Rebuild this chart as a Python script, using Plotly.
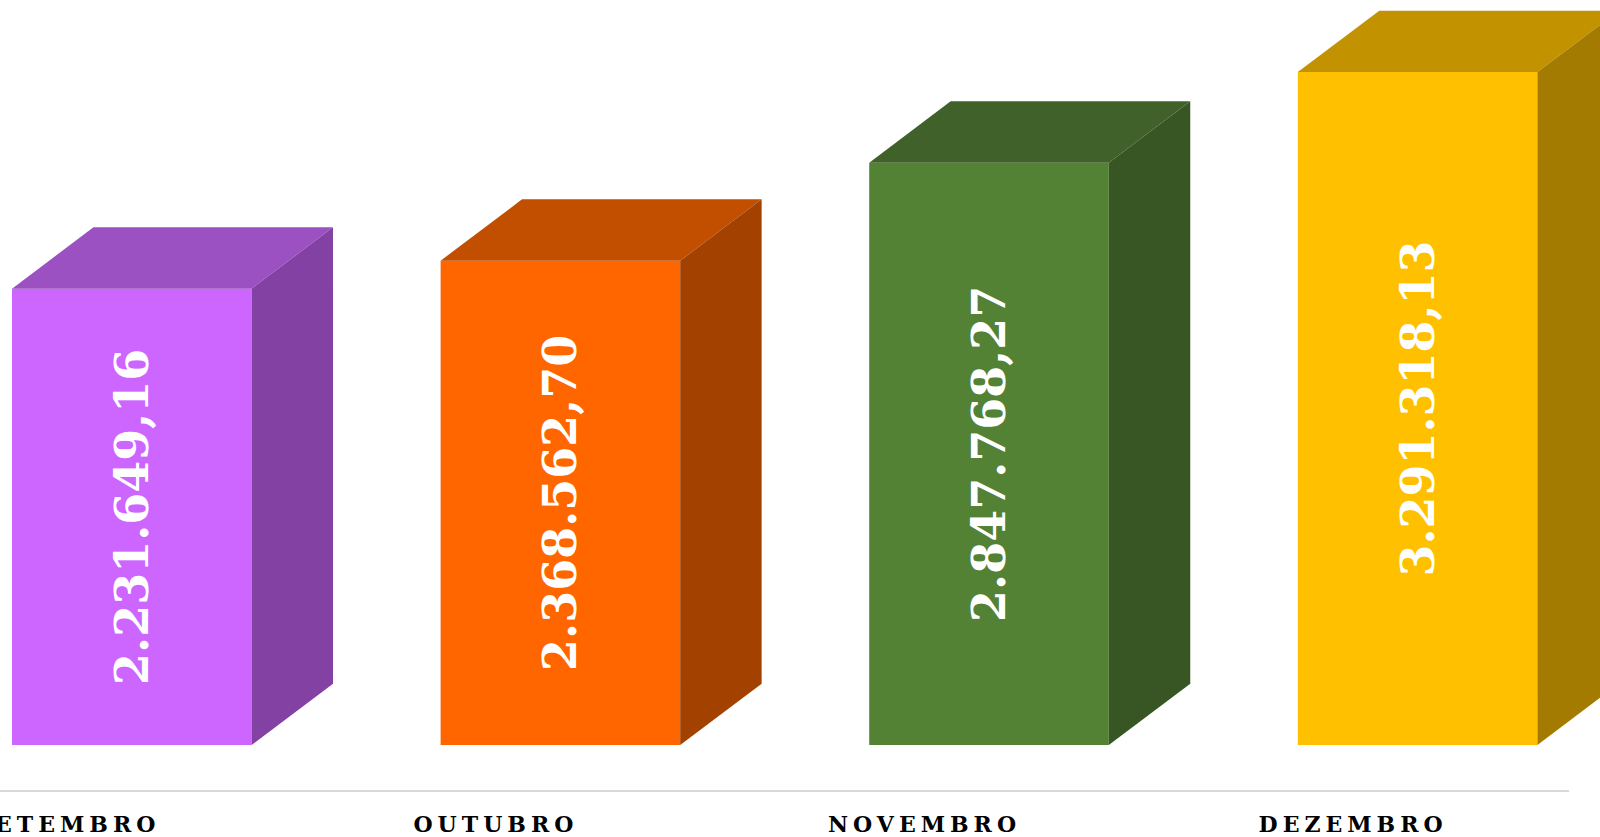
import plotly.graph_objects as go

# ---- data ----
months = ["SETEMBRO", "OUTUBRO", "NOVEMBRO", "DEZEMBRO"]
values = [2231649.16, 2368562.70, 2847768.27, 3291318.13]

# ---- styles ----
front_colors = ["#CC66FF", "#FF6600", "#548235", "#FFC000"]
top_colors = ["#9C51C2", "#C24E00", "#41612A", "#C29200"]
side_colors = ["#8341A3", "#A34100", "#375623", "#A37B00"]

FONT = "DejaVu Serif"
BAR_OFFSET = -0.129   # front face left edge relative to category position
BAR_WIDTH = 0.559
DEPTH_X = 0.190       # depth projection, x units
DEPTH_Y = 300000      # depth projection, y units

xs = list(range(len(months)))

fig = go.Figure()

# front faces
fig.add_trace(go.Bar(
    x=xs, y=values, base=0,
    offset=BAR_OFFSET, width=BAR_WIDTH,
    marker=dict(color=front_colors, line=dict(width=0)),
    texttemplate="%{y:,.2f}",
    textposition="inside", insidetextanchor="middle",
    textangle=-90,
    textfont=dict(family=FONT, size=46, color="white", weight="bold"),
    constraintext="none",
    hoverinfo="skip", showlegend=False,
))

# top and side faces computed from the data
for i, v in enumerate(values):
    L = xs[i] + BAR_OFFSET
    R = L + BAR_WIDTH
    fig.add_trace(go.Scatter(
        x=[L, R, R + DEPTH_X, L + DEPTH_X, L],
        y=[v, v, v + DEPTH_Y, v + DEPTH_Y, v],
        mode="lines", fill="toself", fillcolor=top_colors[i],
        line=dict(width=0, color=top_colors[i]),
        hoverinfo="skip", showlegend=False,
    ))
    fig.add_trace(go.Scatter(
        x=[R, R + DEPTH_X, R + DEPTH_X, R, R],
        y=[0, DEPTH_Y, v + DEPTH_Y, v, 0],
        mode="lines", fill="toself", fillcolor=side_colors[i],
        line=dict(width=0, color=side_colors[i]),
        hoverinfo="skip", showlegend=False,
    ))

ticktext = [f'<span style="letter-spacing:5px">{m}</span>' for m in months]

fig.update_layout(
    width=1600, height=837,
    margin=dict(l=0, r=0, t=0, b=46, autoexpand=False),
    paper_bgcolor="white", plot_bgcolor="white",
    separators=",.",
    showlegend=False,
    xaxis=dict(
        range=[-0.157, 3.576], tickvals=xs, ticktext=ticktext,
        showgrid=False, zeroline=False, showline=False,
        ticks="", ticklabelstandoff=18, ticklabeloverflow="allow",
        tickfont=dict(family=FONT, size=22, color="black", weight="bold"),
        fixedrange=True,
    ),
    yaxis=dict(
        range=[-225000, 3643500], visible=False,
        showgrid=False, zeroline=False, fixedrange=True,
    ),
    shapes=[dict(
        type="line", xref="paper", yref="paper",
        x0=0, x1=1569 / 1600, y0=0, y1=0,
        line=dict(color="#D9D9D9", width=2), layer="below",
    )],
)

fig.write_html(
    "out.html",
    config={"displayModeBar": False},
    post_script="document.body.style.margin='0';document.body.style.overflow='hidden';",
)
